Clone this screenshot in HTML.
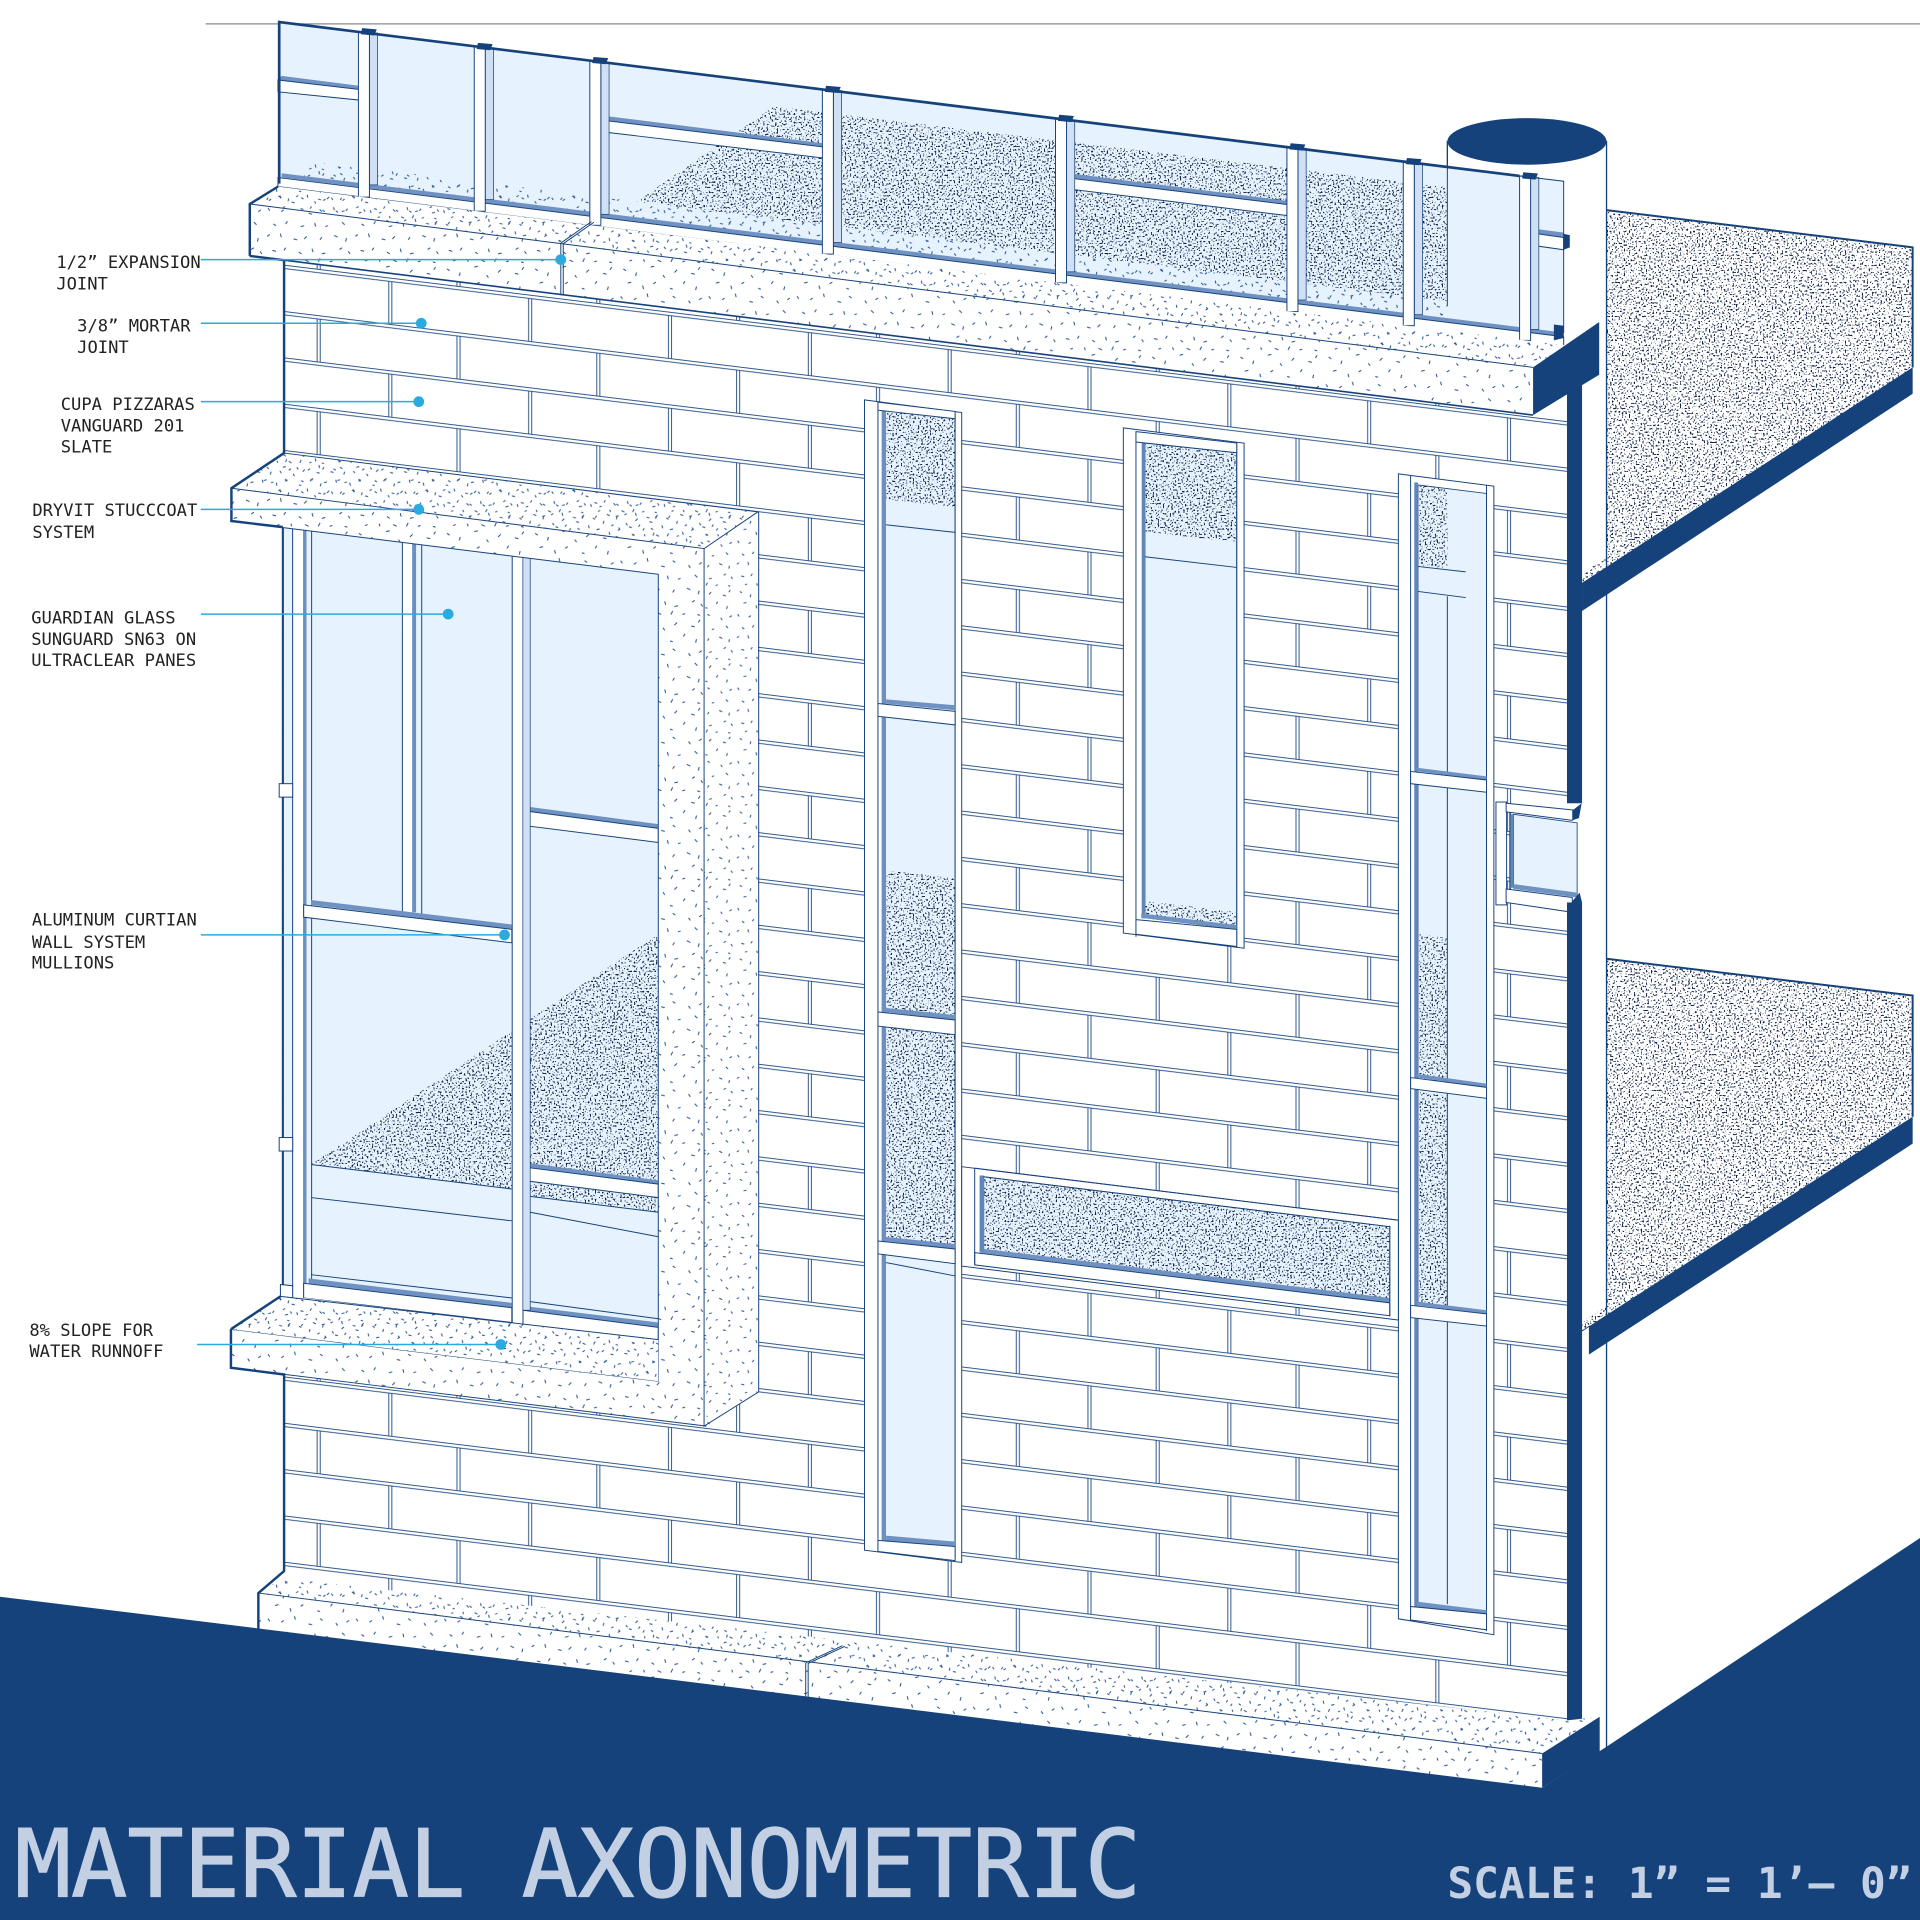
<!DOCTYPE html>
<html><head><meta charset="utf-8"><title>Material Axonometric</title>
<style>
html,body{margin:0;padding:0;background:#fff}
svg{display:block;width:1920px;height:1920px}
.l{fill:none;stroke:#16427c;stroke-width:.8}
.b{fill:none;stroke:#16427c;stroke-width:2}
.w{fill:#fff;stroke:#16427c;stroke-width:.8}
.g{fill:#e6f2fd;stroke:#16427c;stroke-width:.7}
.gg{fill:#e6f2fd}
.s{fill:#6f92c2}
.d{fill:#16427c}
.p{fill:#cfe0f5;stroke:#16427c;stroke-width:.6}
.n{fill:#000;filter:url(#st)}
.sp{fill:url(#sparse)}
.mi{fill:url(#mid)}
.de{fill:url(#dense)}
.c{fill:#fff;stroke:none}
.ld{stroke:#29abe2;stroke-width:1.2;fill:none}
.dot{fill:#29abe2}
text{font-family:"DejaVu Sans Mono","Liberation Mono",monospace}
.t{font-size:14px;fill:#222}
</style></head><body>
<svg xmlns="http://www.w3.org/2000/svg" viewBox="0 0 1568 1568">
<defs>
<filter id="st" x="0" y="0" width="1" height="1" color-interpolation-filters="sRGB">
<feTurbulence type="fractalNoise" baseFrequency=".72" numOctaves="1" seed="7" result="n"/>
<feColorMatrix in="n" type="matrix" values="0 0 0 0 .08 0 0 0 0 .14 0 0 0 0 .28 0 0 0 14 -8.1" result="m"/>
<feComposite in="m" in2="SourceGraphic" operator="in"/>
</filter>
<path id="dash" d="M7 5l3 2M22 9l-1 4M38 3l4-1M52 12l2 3M68 6l-3 3M84 10l4 1M94 3l-2 3M12 21l4-1M29 24l1 4M44 20l-3 2M60 27l3 1M75 22l2-3M90 25l-1 4M4 36l2 3M19 40l3-2M35 37l-1-4M50 42l4 1M66 38l-3-2M81 41l2 3M96 38l-3 2M10 54l3 2M26 51l-2 3M41 57l4-1M57 53l1 4M72 56l-3 1M88 52l3 3M3 68l3-2M18 65l1 4M33 71l4 1M48 68l-3 3M63 72l2-3M79 67l4 2M93 70l-1 4M9 84l4 1M24 81l-2 3M39 86l3 2M54 82l1 4M69 87l-4 1M85 83l3-2M97 88l-2-3M14 96l3-1M31 97l-1-3M46 95l4 2M61 97l2-4M77 96l-3 1M91 97l3 1"/>
<pattern id="sparse" patternUnits="userSpaceOnUse" width="100" height="100" patternTransform="scale(.72)">
<use href="#dash" fill="none" stroke="#1f4e8c" stroke-width="1.15"/>
</pattern>
<pattern id="mid" patternUnits="userSpaceOnUse" width="100" height="100" patternTransform="scale(.6)">
<use href="#dash" fill="none" stroke="#1f4e8c" stroke-width="1.35"/>
</pattern>
<pattern id="dense" patternUnits="userSpaceOnUse" width="100" height="100" patternTransform="scale(.6)">
<g fill="none" stroke="#1f4e8c" stroke-width="1.35">
<use href="#dash"/>
<use href="#dash" transform="translate(47 33)"/>
<use href="#dash" transform="translate(-53 33)"/>
<use href="#dash" transform="translate(47 -67)"/>
<use href="#dash" transform="translate(-53 -67)"/>
</g>
</pattern>
<pattern id="brick" patternUnits="userSpaceOnUse" x="258.5" y="225.7" width="114.2" height="75.66" patternTransform="matrix(1 .122 0 1 0 0)">
<path d="M0 .4H114.2M0 3.1H114.2M.5 3.1V38.2M3 3.1V38.2M0 38.23H114.2M0 40.93H114.2M59 40.93V75.66M61.5 40.93V75.66" fill="none" stroke="#16427c" stroke-width=".72"/>
</pattern>
<clipPath id="w1"><polygon points="232,431 537.6,469 537.6,1095 232,1058"/></clipPath>
</defs>

<rect width="1568" height="1568" fill="#fff"/>
<path d="M168 19.5H1568" stroke="#8a8a8a" stroke-width="1" fill="none"/>

<!-- floors -->
<polygon class="n" points="1312,171.6 1562,202 1562,300 1292,476 1292,468 1312,456"/>
<polygon class="d" points="1292,476 1562,300 1562,321.6 1292,499"/>
<path d="M1312 171.6L1562 202V300" class="l" style="stroke-width:1.6"/>
<polygon class="n" points="1312,783 1562,813 1562,912 1292,1087 1292,1079 1312,1067"/>
<polygon class="d" points="1298,1083 1562,912 1562,934 1298,1106"/>
<path d="M1312 783L1562 813V912" class="l" style="stroke-width:1.6"/>
<path d="M1292 1087L1298 1083V1106" class="l"/>

<!-- cylinder / right wall -->
<rect class="c" x="1182" y="115" width="130" height="170"/>
<rect class="c" x="1292" y="285" width="20" height="170"/>
<path d="M1182 115V180M1312 115V1428" class="l" style="stroke-width:1.1"/>
<ellipse class="d" cx="1247" cy="115.5" rx="65" ry="19"/>

<!-- glass parapet -->
<polygon class="gg" points="228,18 1277,148 1277,276 228,150"/>
<polygon class="n" points="632,87 1182,153 1182,248 515,168"/>
<polygon class="gg" points="241,146 256,132 511,163.5 1182,246 1182,262 241,150"/>
<polygon class="de" points="241,146 256,132 511,163.5 1182,246 1182,262 241,150"/>
<path d="M1182 134V250" class="l"/>
<!-- rail -->
<polygon class="s" points="230,141.5 1277,271.6 1277,275 230,145"/>
<polygon class="w" points="227,145 1277,275 1277,283 227,152.4"/>
<!-- transoms -->
<polygon class="s" points="230,62 293,70 293,73 227,65.3"/>
<polygon class="w" points="227,65.3 293,73 293,81.7 227,75"/>
<polygon class="s" points="497,95 672,117 672,120 490.7,98"/>
<polygon class="w" points="490.7,98 672,120 672,129 490.7,107.5"/>
<polygon class="s" points="877,142 1051,164 1051,167 870,145"/>
<polygon class="w" points="870,145 1051,167 1051,176 870,154"/>
<polygon class="s" points="1255,187 1277,190 1277,194 1249,190"/>
<polygon class="w" points="1249,190 1277,194 1277,204 1249,200"/>
<polygon class="d" points="1277,191 1282,192 1282,202 1277,204"/>
<!-- mullions -->
<g>
<rect class="p" x="301.7" y="27" width="6.7" height="124"/><rect class="w" x="292.7" y="26" width="9" height="135"/><polygon class="d" points="295.7,23 307.7,24 305.7,29 294.7,28"/>
<rect class="p" x="396.3" y="39" width="6.7" height="124"/><rect class="w" x="387.3" y="38" width="9" height="134.500"/><polygon class="d" points="390.3,35 402.3,36 400.3,41 389.300,40"/>
<rect class="p" x="490.7" y="51" width="6.7" height="124"/><rect class="w" x="481.7" y="49.500" width="9" height="134.500"/><polygon class="d" points="484.7,46.500 496.7,47.500 494.7,52.500 483.700,51.500"/>
<rect class="p" x="680.6" y="74" width="6.7" height="124"/><rect class="w" x="671.6" y="73" width="9" height="134.500"/><polygon class="d" points="674.6,70 686.6,71 684.6,76 673.6,75"/>
<rect class="p" x="871" y="98" width="6.7" height="124"/><rect class="w" x="862" y="96.700" width="9" height="134.300"/><polygon class="d" points="865,93.700 877,94.700 875,99.700 864,98.700"/>
<rect class="p" x="1060" y="121" width="6.7" height="124"/><rect class="w" x="1051" y="120" width="9" height="134.500"/><polygon class="d" points="1054,117 1066,118 1064,123 1053,122"/>
<rect class="p" x="1155" y="133" width="6.7" height="124"/><rect class="w" x="1146" y="132" width="9" height="134"/><polygon class="d" points="1149,129 1161,130 1159,135 1148,134"/>
<rect class="p" x="1250" y="145" width="6.7" height="124"/><rect class="w" x="1241" y="143.700" width="9" height="134.300"/><polygon class="d" points="1244,140.700 1256,141.700 1254,146.700 1243,145.700"/>
</g>
<path d="M228 150V18L1241 143.700" class="b" style="stroke-width:2.2"/>
<path d="M1241 143.700L1277 148V272" class="l"/>

<!-- wall -->
<polygon class="c" points="232,200 1280,330 1280,1420 232,1290"/>
<polygon fill="url(#brick)" points="232,200 1280,330 1280,1420 232,1290"/>

<!-- tall window A -->
<polygon class="w" points="706,326.600 785.400,336.900 785.400,1276 706,1266"/>
<polygon class="g" points="723,335 780,342 780,1262 723,1258"/>
<polygon class="n" points="724,335 780,342 780,414 724,407.800"/>
<polygon class="n" points="724,711 780,717 780,830 724,824"/>
<polygon class="n" points="724,836 780,843 780,1018 724,1012"/>
<path d="M723 428.500L780 434.800M723 1031L780 1042" class="l"/>
<rect x="720" y="334" width="3.500" height="924" fill="#6d8fc0"/>
<path d="M717 328V1266M780 336V1272" class="l"/>
<polygon class="w" points="717,328.400 780,336 780,342 717,335"/>
<polygon class="s" points="722,571 780,576 780,580 722,574.500"/>
<polygon class="w" points="717,574.500 780,581 780,592 717,585"/>
<polygon class="s" points="722,823 780,829 780,833 722,826.500"/>
<polygon class="w" points="717,826.500 780,833 780,845 717,838"/>
<polygon class="s" points="722,1010 780,1016 780,1020 722,1013.500"/>
<polygon class="w" points="717,1013.500 780,1020 780,1032 717,1024"/>
<polygon class="s" points="722,1254 780,1259 780,1263 722,1258"/>
<polygon class="w" points="717,1258 780,1263 780,1274.500 717,1267"/>

<!-- window B -->
<polygon class="w" points="917.400,349.400 1016,361.900 1016,774.400 917.400,762"/>
<polygon class="g" points="935,361.800 1010,369.700 1010,758.900 935,749.500"/>
<polygon class="n" points="935.500,361.800 1010,369.700 1010,442.600 935.500,434.600"/>
<polygon class="n" points="935.500,736 1010,744.800 1010,757 935.500,748"/>
<path d="M935 454.700L1010 463.400" class="l"/>
<rect x="932.400" y="359" width="2.800" height="391" fill="#5f85ba"/>
<path d="M927.700 352.500V765M1010 362V773" class="l"/>
<polygon class="w" points="927.700,352.500 1010,361.800 1010,369.700 927.700,361"/>
<polygon class="s" points="932,746 1010,755.500 1010,759 932,749.500"/>
<polygon class="w" points="927.700,751 1010,759 1010,773 927.700,763"/>

<!-- window C -->
<polygon class="w" points="1142,387 1220,397 1220,1335 1142,1322"/>
<polygon class="g" points="1158,396 1214,403 1214,1318 1158,1312"/>
<polygon class="n" points="1159,396 1182,399 1182,464 1159,462"/>
<polygon class="n" points="1159,763 1182,766 1182,884 1159,881"/>
<polygon class="n" points="1159,892 1182,895 1182,1068 1159,1065"/>
<path d="M1158 462.600L1197 467M1158 483L1197 488M1182 487V1310" class="l"/>
<rect x="1155" y="394" width="3" height="918" fill="#5f85ba"/>
<path d="M1152 388.500V1324M1214 396V1332" class="l"/>
<polygon class="s" points="1157,627 1214,634 1214,637 1157,630"/>
<polygon class="w" points="1152,630 1214,637 1214,647 1152,640"/>
<polygon class="s" points="1157,877 1214,885 1214,888 1157,880"/>
<polygon class="w" points="1152,880 1214,888 1214,897 1152,889"/>
<polygon class="s" points="1157,1063 1214,1070 1214,1073 1157,1066"/>
<polygon class="w" points="1152,1066 1214,1073 1214,1083 1152,1076"/>
<polygon class="s" points="1157,1308 1214,1315 1214,1318 1157,1312"/>
<polygon class="w" points="1152,1312 1214,1318 1214,1331 1152,1323"/>

<!-- window D -->
<polygon class="w" points="785.400,952.800 1142,996.500 1142,1078 785.400,1034"/>
<polygon class="g" points="803,961 1135,1001.800 1135,1063 803,1022"/>
<polygon class="n" points="804,961 1135,1001.800 1135,1061.700 804,1021"/>
<polygon class="s" points="800,1019.500 1135,1060 1135,1064 800,1023"/>
<rect x="800" y="960" width="3.800" height="62" fill="#5f85ba"/>
<polygon class="w" points="796,1023 1135,1064 1135,1074.500 796,1033"/>
<path d="M796 954V1033M1135 1001V1075M796 954L1142 996.500M803 961L1135 1001.800" class="l"/>

<!-- window E -->
<rect class="w" x="1221.700" y="655" width="8.700" height="84"/>
<polygon class="g" points="1236,665 1288,672 1288,731 1236,725"/>
<rect x="1233" y="665" width="3" height="60" fill="#5f85ba"/>
<path d="M1233 660V730" class="l"/>
<polygon class="w" points="1230,656 1290,662 1284,670 1230,663"/>
<polygon class="s" points="1236,722 1288,729 1288,733 1236,726"/>
<polygon class="w" points="1230,726 1284,733 1284,745 1230,737"/>

<!-- dark column -->
<rect class="d" x="1279.700" y="300" width="12.300" height="356"/>
<polygon class="d" points="1284,662 1291.700,656 1289.500,668 1284,670"/>
<rect class="d" x="1279.700" y="737" width="12.300" height="683"/>
<polygon class="d" points="1284,736 1290,729 1292,737 1284,745"/>

<!-- big window group -->
<polygon class="gg" points="232,431 537.600,469 537.600,1095 232,1058"/>
<g clip-path="url(#w1)">
<polygon class="n" points="418,842 254,951 418,971"/>
<polygon class="n" points="433,832 537.600,763 537.600,967 433,953"/>
<polygon class="n" points="433,963 537.600,977 537.600,990 433,977"/>
<path d="M254 951L418 971M254 978L418 997M433 977L537.600 990M433 990L537.600 1010" class="l"/>
<rect class="c" x="239" y="420" width="8.500" height="640"/>
<rect x="247.500" y="420" width="2.800" height="640" fill="#6d8fc0"/>
<path d="M239 420V1060M254.500 420V1048" class="l"/>
<rect class="c" x="328.600" y="430" width="8" height="315"/>
<rect x="336.600" y="430" width="3.200" height="315" fill="#6d8fc0"/>
<path d="M328.600 430V745M344.400 430V757" class="l"/>
<polygon class="s" points="254,735 418,755 418,759 254,739"/>
<polygon class="w" points="248,739 418,759 418,770 248,749"/>
<polygon class="s" points="433,659 537.600,673 537.600,677 433,663"/>
<polygon class="w" points="427,662 537.600,676.500 537.600,688 427,674"/>
<polygon class="s" points="433,950 537.600,964 537.600,968 433,954"/>
<polygon class="w" points="427,953 537.600,967 537.600,978 427,964"/>
<path d="M254 1041L418 1060" class="l"/>
<polygon class="s" points="252,1044 418,1064 418,1068 252,1048"/>
<polygon class="w" points="248,1048 418,1068 418,1080 248,1060"/>
<path d="M433 1063L537.600 1077" class="l"/>
<polygon class="s" points="431,1067 537.600,1080 537.600,1084 431,1071"/>
<polygon class="w" points="427,1070 537.600,1084 537.600,1096 427,1082"/>
<rect class="w" x="418.300" y="440" width="8.800" height="645"/>
<polygon class="p" points="427,450 433,451 433,1070 427,1070"/>
</g>
<path d="M231 431V1058" class="b" style="stroke-width:1.7"/>
<rect class="w" x="228" y="640" width="11" height="11"/>
<rect class="w" x="228" y="929" width="11" height="11"/>
<polygon class="w" points="229,1049 239,1050 239,1060 229,1059"/>

<!-- surround -->
<polygon class="c" points="189,398.700 232,370 619,418 575,448"/>
<polygon class="de" points="189,398.700 232,370 619,418 575,448"/>
<polygon class="c" points="189,398.700 575,448 575,1165 188.600,1117 188.600,1085.500 537.600,1128 537.600,469 188,425.500"/>
<polygon class="sp" points="189,398.700 575,448 575,1165 188.600,1117 188.600,1085.500 537.600,1128 537.600,469 188,425.500"/>
<path d="M189 398.700L575 448M188 425.500L537.600 469V1128L188.600 1085.500M188.600 1117L577 1164.700" class="l"/>
<polygon class="c" points="575,448 619,418 619.600,1136.700 577,1164.700"/>
<polygon class="mi" points="575,448 619,418 619.600,1136.700 577,1164.700"/>
<path d="M232 370L619 418L575 448V1164.700L619.600 1136.700V418" class="l"/>
<polygon class="c" points="188.600,1085.500 229,1058.700 537.600,1094 537.600,1128"/>
<polygon class="de" points="188.600,1085.500 229,1058.700 537.600,1094 537.600,1128"/>
<path d="M229 1058.700L537.600 1094" class="l"/>

<!-- top sill -->
<polygon class="c" points="227,152.400 1278,282 1306,263 1252,300 204,166.600"/>
<polygon class="de" points="227,152.400 1278,282 1306,263 1252,300 204,166.600"/>
<polygon class="c" points="204,166.600 1252,300 1252,339 204,209"/>
<polygon class="sp" points="204,166.600 1252,300 1252,339 204,209"/>
<polygon class="d" points="1252,300 1306,263 1306,306 1252,339"/>
<polygon class="d" points="1269,265 1277,266 1277,276 1269,278"/>
<path d="M204 166.600L1252 300" class="l"/>
<path d="M204 209L1252 339" class="l" style="stroke-width:1.3"/>
<path d="M458 198.500V241M460 199V241M458 198.500L483 181M460 199L485 181.500" class="l"/>

<!-- base sill -->
<polygon class="c" points="231,1289 1280,1405 1306.400,1402 1259.400,1432 211,1301"/>
<polygon class="de" points="231,1289 1280,1405 1306.400,1402 1259.400,1432 211,1301"/>
<polygon class="c" points="211,1301 1259.400,1432 1259.400,1461 211,1331"/>
<polygon class="sp" points="211,1301 1259.400,1432 1259.400,1461 211,1331"/>
<path d="M211 1301L1259.400 1432" class="l"/>
<path d="M658 1358V1386M660 1358V1386M658 1358L688 1344M660 1358.500L690 1344.500" class="l"/>

<!-- ground -->
<polygon class="d" points="0,1304 212,1330 1259.400,1460 1312,1426.500 1568,1256 1568,1568 0,1568"/>
<polygon class="d" points="1259.400,1432 1306.400,1402 1306.400,1430.500 1259.400,1460"/>

<!-- thick outline left -->
<path d="M204 209V166.600L227 152.400M204 209L232 212.500V370L189 398.700V425.500L231 430.500M188.600 1085.500L229 1058.700M188.600 1085.500V1117L232 1122.500V1283L211 1301V1331" class="b"/>

<!-- leaders -->
<path class="ld" d="M164 212H458M164 264H344M164 328H342M164 416H342M164 501.500H366M164 763.500H412M161 1098H409"/>
<circle class="dot" cx="458" cy="212" r="4.400"/>
<circle class="dot" cx="344" cy="264" r="4.400"/>
<circle class="dot" cx="342" cy="328" r="4.400"/>
<circle class="dot" cx="342" cy="416" r="4.400"/>
<circle class="dot" cx="366" cy="501.500" r="4.400"/>
<circle class="dot" cx="412" cy="763.500" r="4.400"/>
<circle class="dot" cx="409" cy="1098" r="4.400"/>

<!-- labels -->
<text class="t" x="46" y="219">1/2” EXPANSION</text>
<text class="t" x="46" y="236.300">JOINT</text>
<text class="t" x="63" y="270.900">3/8” MORTAR</text>
<text class="t" x="63" y="288.400">JOINT</text>
<text class="t" x="49.600" y="334.800">CUPA PIZZARAS</text>
<text class="t" x="49.600" y="352.300">VANGUARD 201</text>
<text class="t" x="49.600" y="369.400">SLATE</text>
<text class="t" x="26.400" y="421.400">DRYVIT STUCCCOAT</text>
<text class="t" x="26.400" y="439.400">SYSTEM</text>
<text class="t" x="25.500" y="509">GUARDIAN GLASS</text>
<text class="t" x="25.500" y="526.800">SUNGUARD SN63 ON</text>
<text class="t" x="25.500" y="543.900">ULTRACLEAR PANES</text>
<text class="t" x="26" y="756">ALUMINUM CURTIAN</text>
<text class="t" x="26" y="774">WALL SYSTEM</text>
<text class="t" x="26" y="791">MULLIONS</text>
<text class="t" x="24" y="1091">8% SLOPE FOR</text>
<text class="t" x="24" y="1108.400">WATER RUNNOFF</text>

<text x="12" y="1549" font-size="76.400" fill="#c3cfe2" stroke="#c3cfe2" stroke-width="1">MATERIAL AXONOMETRIC</text>
<text x="1182" y="1550" font-size="35" font-weight="bold" fill="#c3cfe2" xml:space="preserve">SCALE: 1” = 1’– 0”</text>
</svg>
</body></html>
